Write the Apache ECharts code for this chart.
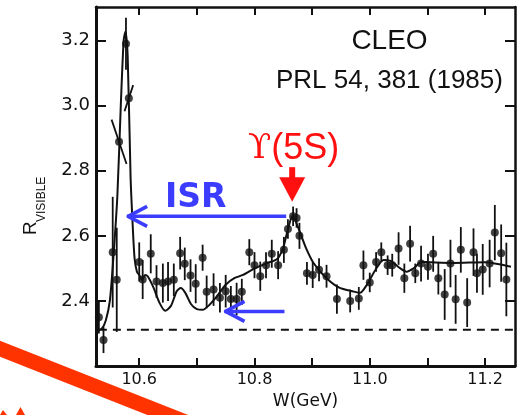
<!DOCTYPE html>
<html><head><meta charset="utf-8">
<script src="https://cdn.jsdelivr.net/npm/echarts@6/dist/echarts.min.js"></script>
<style>html,body{margin:0;padding:0;background:#fff}#c{width:520px;height:415px}</style>
</head><body><div id="c"></div>
<script>
// measured points: energy W (GeV), R_visible, vertical error, energy slant of error bar
const W  = [10.530,10.538,10.554,10.561,10.565,10.577,10.582,10.600,10.606,10.620,10.630,10.641,10.650,10.660,10.671,10.679,10.689,10.698,10.710,10.717,10.729,10.740,10.750,10.759,10.769,10.778,10.791,10.800,10.810,10.820,10.830,10.841,10.851,10.858,10.867,10.873,10.878,10.891,10.901,10.912,10.925,10.943,10.966,10.981,10.989,11.000,11.011,11.020,11.031,11.039,11.050,11.060,11.070,11.079,11.089,11.101,11.110,11.119,11.130,11.140,11.149,11.158,11.169,11.180,11.186,11.196,11.208,11.217,11.228,11.237];
const R  = [2.350,2.280,2.550,2.465,2.889,3.190,3.023,2.520,2.466,2.545,2.460,2.455,2.460,2.465,2.547,2.514,2.478,2.453,2.533,2.428,2.435,2.410,2.430,2.406,2.406,2.428,2.550,2.510,2.476,2.510,2.545,2.510,2.557,2.621,2.660,2.655,2.600,2.485,2.480,2.496,2.476,2.406,2.400,2.408,2.510,2.457,2.520,2.550,2.510,2.510,2.561,2.470,2.576,2.485,2.515,2.505,2.545,2.470,2.420,2.515,2.405,2.557,2.395,2.550,2.485,2.497,2.515,2.610,2.547,2.466];
const dR = [0.050,0.040,0.170,0.160,0.068,0.080,0.040,0.060,0.060,0.060,0.050,0.060,0.060,0.050,0.050,0.050,0.050,0.060,0.040,0.050,0.050,0.045,0.050,0.040,0.050,0.040,0.040,0.040,0.045,0.040,0.043,0.043,0.040,0.030,0.030,0.030,0.040,0.035,0.040,0.035,0.035,0.045,0.035,0.035,0.045,0.030,0.030,0.030,0.030,0.035,0.050,0.045,0.055,0.030,0.055,0.040,0.055,0.050,0.078,0.073,0.075,0.070,0.075,0.073,0.060,0.078,0.073,0.085,0.088,0.113];
const dW = [0,0,0,0,-0.013,0,0.0075,0,0,0,0,0,0,0,0,0,0,0,0,0,0,0,0,0,0,0,0,0,0,0,0,0,0,0,0,0,0,0,0,0,0,0,0,0,0,0,0,0,0,0,0,0,0,0,0,0,0,0,0,0,0,0,0,0,0,0,0,0,0,0];
// fitted curve
const curveW = [10.527,10.535,10.542,10.549,10.555,10.562,10.568,10.573,10.576,10.580,10.585,10.589,10.592,10.596,10.600,10.605,10.610,10.615,10.625,10.635,10.645,10.655,10.665,10.672,10.680,10.690,10.700,10.710,10.720,10.735,10.750,10.765,10.780,10.800,10.820,10.840,10.850,10.858,10.866,10.878,10.890,10.903,10.925,10.948,10.970,10.983,10.995,11.010,11.024,11.036,11.053,11.064,11.076,11.090,11.105,11.145,11.200,11.245];
const curveR = [2.310,2.315,2.340,2.400,2.530,2.720,3.000,3.200,3.227,3.150,2.780,2.620,2.530,2.490,2.480,2.465,2.480,2.475,2.440,2.395,2.370,2.385,2.430,2.440,2.425,2.390,2.375,2.373,2.385,2.415,2.450,2.470,2.480,2.500,2.515,2.530,2.565,2.620,2.662,2.615,2.560,2.515,2.470,2.440,2.430,2.425,2.450,2.496,2.526,2.523,2.500,2.490,2.500,2.520,2.519,2.517,2.519,2.505];
const baseW = [10.530, 11.252];
const baseR = [2.312, 2.312];
const xTicks = [10.6,10.7,10.8,10.9,11.0,11.1,11.2];
const xLabels = [10.6,10.8,11.0,11.2];
const yTicks = [2.4,2.6,2.8,3.0,3.2];
// annotations (data coords)
const isrLong = {tipW:10.579, endW:10.855, R:2.660};
const isrShort = {tipW:10.748, endW:10.852, R:2.368};
const peakArrow = {W:10.8654, topR:2.811, tipR:2.705};

const chart = echarts.init(document.getElementById('c'), null, {renderer:'canvas'});
const ink = '#111';
const xBase = {type:'value', min:10.525, max:11.252, splitLine:{show:false}};
const yBase = {type:'value', min:2.2, max:3.303, splitLine:{show:false}};
chart.setOption({
  animation:false,
  backgroundColor:'#fff',
  grid:{left:96, right:5, top:7, bottom:44, containLabel:false},
  xAxis:[
    Object.assign({}, xBase, {position:'bottom',
      axisLine:{lineStyle:{color:ink,width:3}},
      axisTick:{inside:true,length:8,lineStyle:{color:ink,width:2},customValues:xTicks},
      axisLabel:{customValues:xLabels,margin:6,color:ink,fontFamily:'DejaVu Sans',fontSize:16,formatter:v=>v.toFixed(1)},
      name:'W(GeV)', nameLocation:'middle', nameGap:24,
      nameTextStyle:{color:ink,fontFamily:'DejaVu Sans',fontSize:17}}),
    Object.assign({}, xBase, {position:'top',
      axisLine:{lineStyle:{color:ink,width:2.5}},
      axisTick:{inside:true,length:8,lineStyle:{color:ink,width:2},customValues:xTicks},
      axisLabel:{show:false}})
  ],
  yAxis:[
    Object.assign({}, yBase, {position:'left',
      axisLine:{show:true,lineStyle:{color:ink,width:3}},
      axisTick:{show:true,inside:true,length:10,lineStyle:{color:ink,width:2},customValues:yTicks},
      axisLabel:{customValues:yTicks,margin:6,color:ink,fontFamily:'DejaVu Sans',fontSize:18,formatter:v=>v.toFixed(1)}}),
    Object.assign({}, yBase, {position:'right',
      axisLine:{show:true,lineStyle:{color:ink,width:2.5}},
      axisTick:{show:true,inside:true,length:10,lineStyle:{color:ink,width:2},customValues:yTicks},
      axisLabel:{show:false}})
  ],
  series:[
    {type:'line', data:baseW.map((w,i)=>[w,baseR[i]]), symbol:'none',
     lineStyle:{color:ink,width:2,type:[8,6]}, z:1},
    {type:'line', data:curveW.map((w,i)=>[w,curveR[i]]), symbol:'none', smooth:0.25,
     lineStyle:{color:ink,width:2}, z:2},
    {type:'custom', data:W.map((w,i)=>[w,R[i],dR[i],dW[i]]), encode:{x:0,y:1}, z:3,
     renderItem:(params,api)=>{
       const w=api.value(0), r=api.value(1), e=api.value(2), s=api.value(3);
       const p1=api.coord([w+s,r+e]), p2=api.coord([w-s,r-e]);
       return {type:'line', shape:{x1:p1[0],y1:p1[1],x2:p2[0],y2:p2[1]}, style:{stroke:ink,lineWidth:1.8}};
     }},
    {type:'scatter', data:W.map((w,i)=>[w,R[i]]), symbol:'circle', symbolSize:8,
     itemStyle:{color:ink}, z:4}
  ]
});

const px = (w,r)=>chart.convertToPixel({gridIndex:0},[w,r]);
const blue = '#3c3cff', red = '#ff1010';
function arrow(a){
  const t = px(a.tipW,a.R), e = px(a.endW,a.R);
  return [
    {type:'polyline', shape:{points:[[t[0],t[1]],[e[0],e[1]]]}, style:{stroke:blue,lineWidth:3.5,fill:null}, z:10},
    {type:'polyline', shape:{points:[[t[0]+20,t[1]-10],[t[0]+1,t[1]],[t[0]+20,t[1]+10]]}, style:{stroke:blue,lineWidth:3.5,fill:null,lineJoin:'round'}, z:10}
  ];
}
const pTop = px(peakArrow.W,peakArrow.topR), pTip = px(peakArrow.W,peakArrow.tipR);
const g = [].concat(arrow(isrLong), arrow(isrShort), [
  {type:'rect', shape:{x:pTop[0]-3,y:pTop[1],width:6,height:12}, style:{fill:red}, z:10},
  {type:'polygon', shape:{points:[[pTop[0]-13,pTop[1]+10],[pTop[0]+13,pTop[1]+10],[pTip[0],pTip[1]]]}, style:{fill:red}, z:10},
  {type:'text', x:248, y:149, z:10, style:{text:'{u|ϒ}{n|(5S)}', fill:red, textVerticalAlign:'middle',
     rich:{u:{fontFamily:'DejaVu Serif',fontSize:34,fill:red}, n:{fontFamily:'Liberation Sans',fontSize:36,fill:red}}}},
  {type:'text', x:165, y:198, z:10, style:{text:'ISR', fill:blue, font:'bold 33px "DejaVu Sans"', textVerticalAlign:'middle'}},
  {type:'text', x:389.5, y:41, z:10, style:{text:'CLEO', fill:ink, font:'28px "Liberation Sans"', textAlign:'center', textVerticalAlign:'middle'}},
  {type:'text', x:276, y:81, z:10, style:{text:'PRL 54, 381 (1985)', fill:ink, font:'26px "Liberation Sans"', textAlign:'left', textVerticalAlign:'middle'}},
  {type:'text', x:31, y:235, rotation:Math.PI/2, z:10, style:{text:'R', fill:ink, font:'19px "Liberation Sans"', textAlign:'left', textVerticalAlign:'middle'}},
  {type:'text', x:41.3, y:222, rotation:Math.PI/2, z:10, style:{text:'VISIBLE', fill:ink, font:'12px "Liberation Sans"', textAlign:'left', textVerticalAlign:'middle'}},
  {type:'polyline', shape:{points:[[-10,344.8],[200,427.7]]}, style:{stroke:'#ff3300',lineWidth:15}, z:20},
  {type:'polygon', shape:{points:[[0,415],[3,410],[7,415]]}, style:{fill:'#ff3300'}, z:20},
  {type:'polygon', shape:{points:[[16,415],[20.5,407],[25,415]]}, style:{fill:'#ff3300'}, z:20}
]);
chart.setOption({graphic:g});
</script>
</body></html>
